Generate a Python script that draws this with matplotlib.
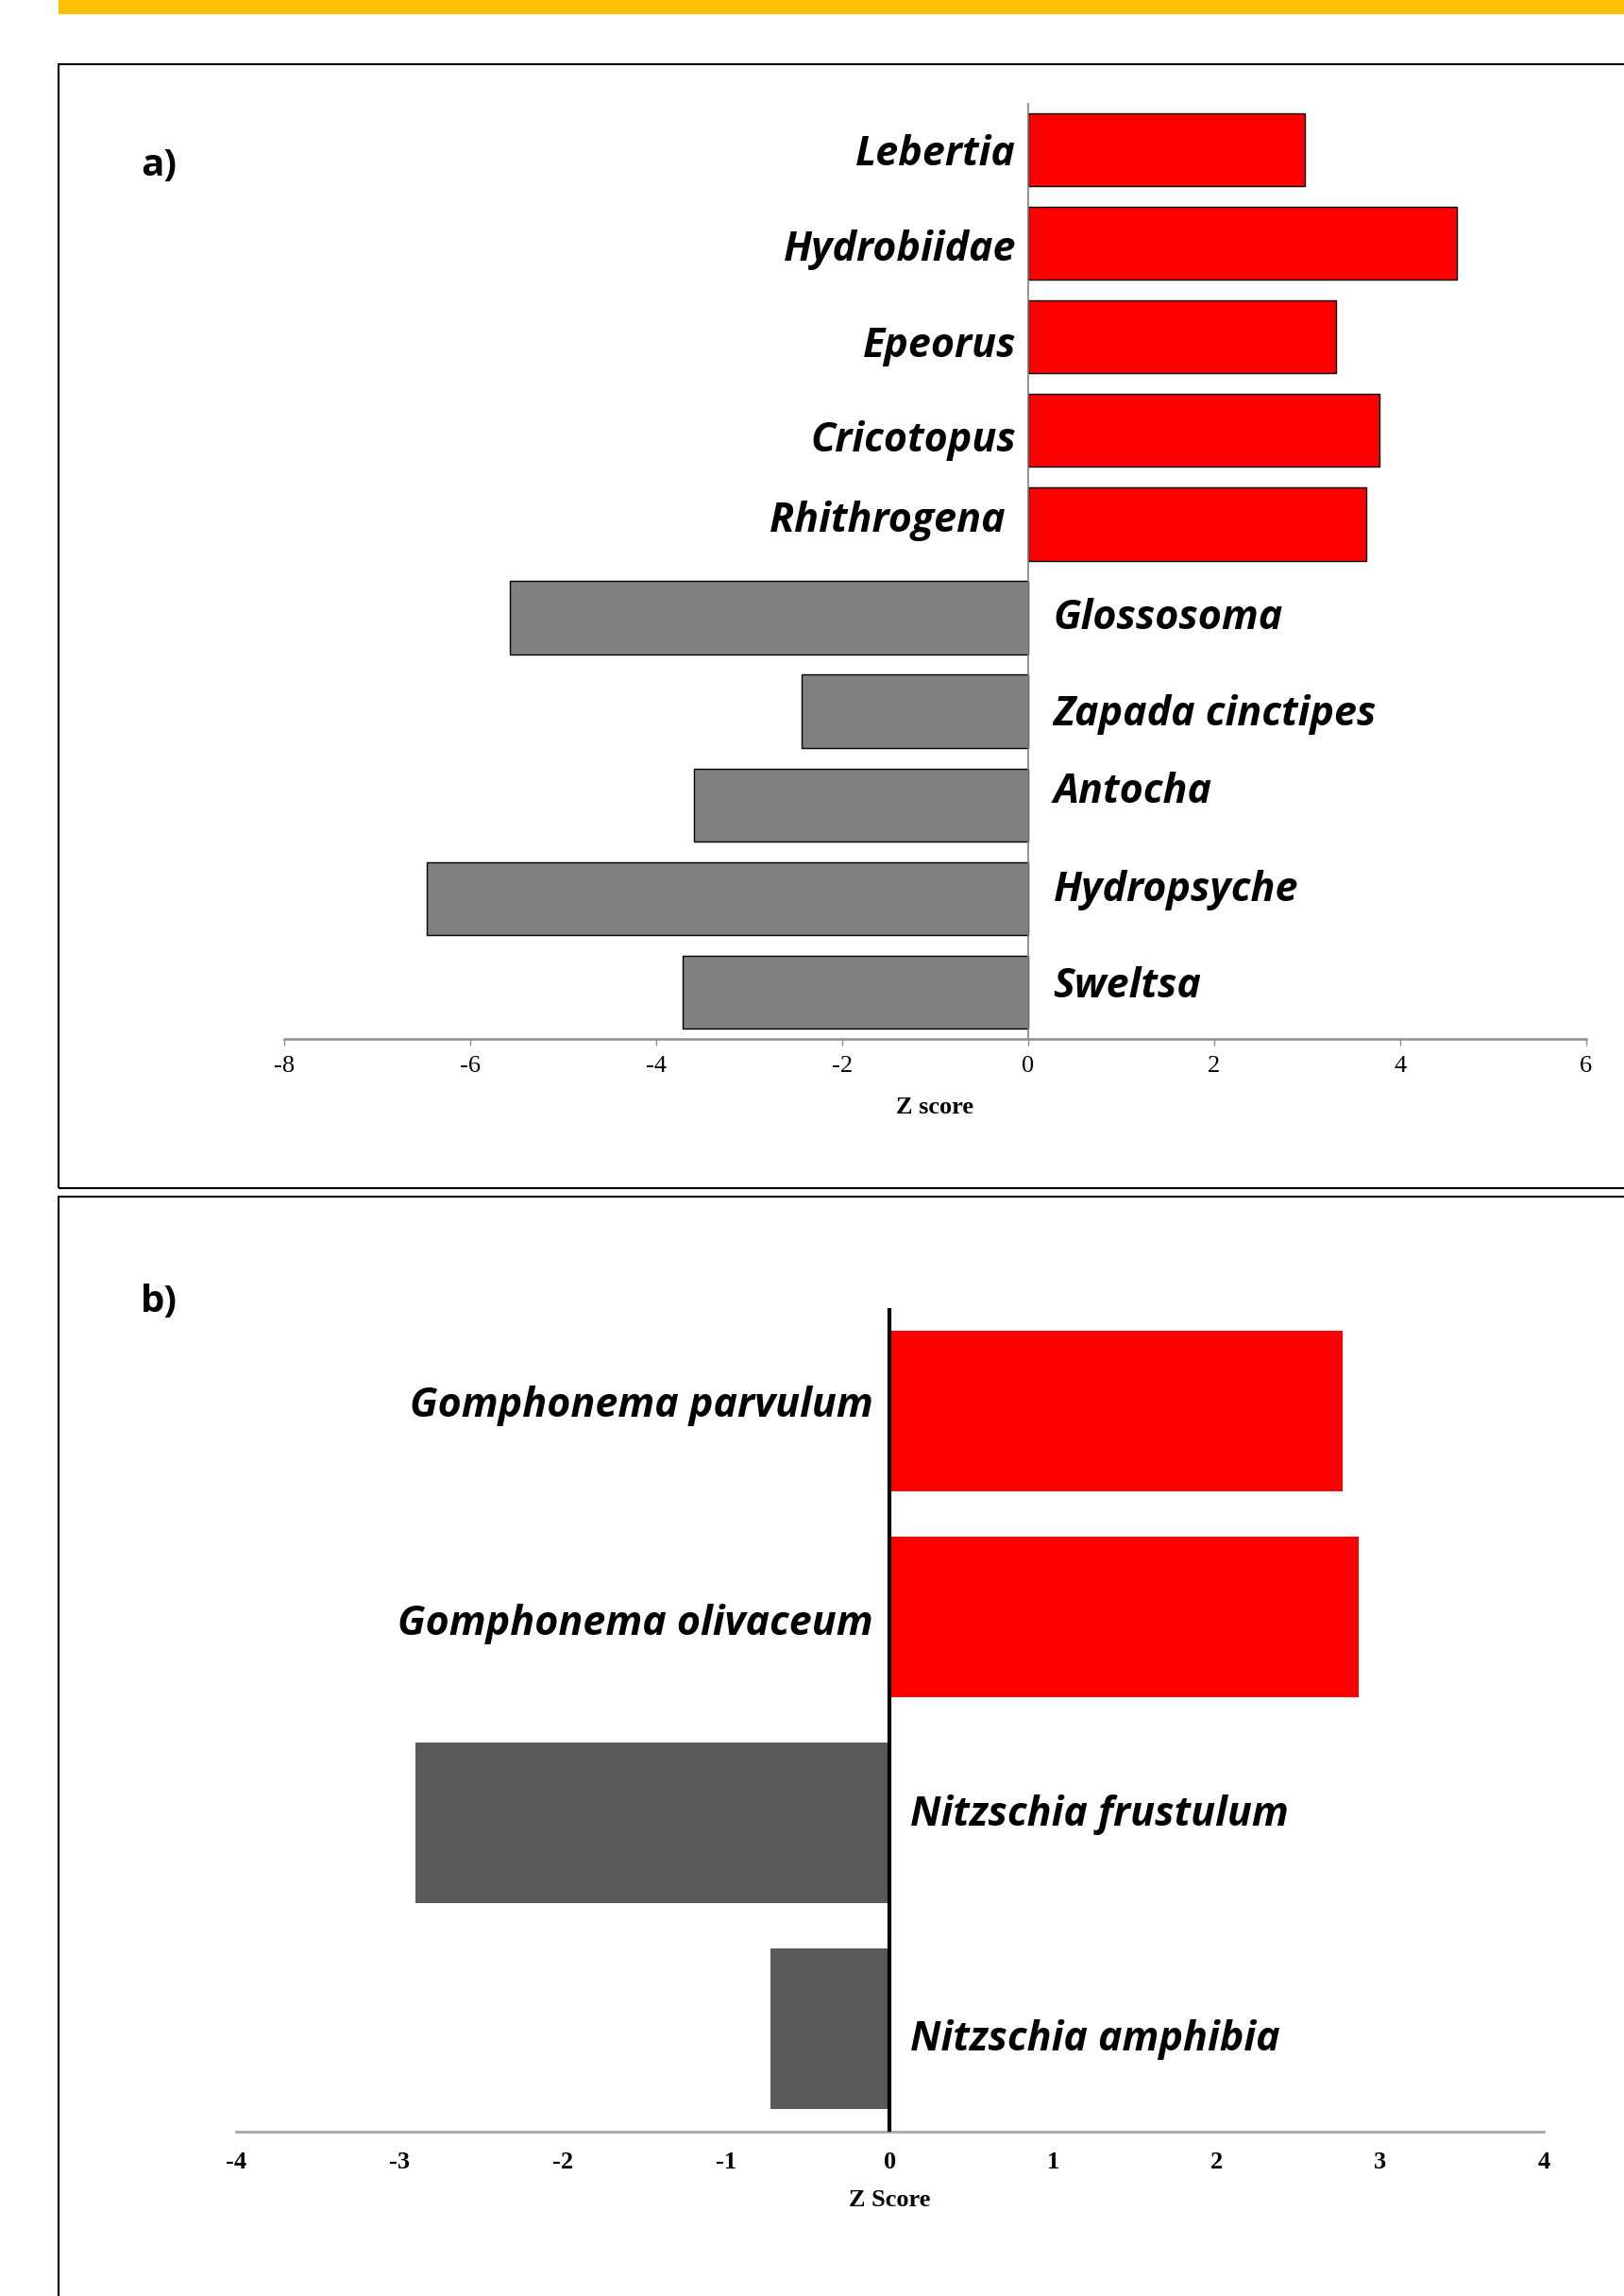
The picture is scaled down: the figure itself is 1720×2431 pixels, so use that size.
import matplotlib
matplotlib.use("Agg")
import matplotlib.pyplot as plt
from matplotlib.patches import Rectangle

# panel a: macroinvertebrate taxa (top to bottom)
taxa_a = ["Lebertia", "Hydrobiidae", "Epeorus", "Cricotopus", "Rhithrogena ",
          "Glossosoma", "Zapada cinctipes", "Antocha", "Hydropsyche", "Sweltsa"]
z_a = [2.98, 4.61, 3.31, 3.78, 3.64, -5.57, -2.44, -3.59, -6.47, -3.72]
ticks_a = [-8, -6, -4, -2, 0, 2, 4, 6]

# panel b: diatom taxa (top to bottom)
taxa_b = ["Gomphonema parvulum", "Gomphonema olivaceum",
          "Nitzschia frustulum", "Nitzschia amphibia"]
z_b = [2.77, 2.87, -2.90, -0.73]
ticks_b = [-4, -3, -2, -1, 0, 1, 2, 3, 4]

# small vertical tweaks for the hand-placed taxon names
nudge_a = [0, 0.02, 0.05, 0.06, -0.08, -0.05, -0.02, -0.19, -0.14, -0.11]
nudge_b = [-0.05, 0.01, -0.06, 0.03]

LABEL_FONT = ["Open Sans", "DejaVu Sans"]
SERIF = ["Liberation Serif", "DejaVu Serif"]

fig = plt.figure(figsize=(17.2, 24.31), dpi=100)

# gold strip and panel frames
fig.add_artist(Rectangle((0.036, 0.9938), 1.0, 0.02, transform=fig.transFigure,
                         color="#FFC000", lw=0))
fig.add_artist(Rectangle((0.036, 0.4825), 1.0, 0.4895, transform=fig.transFigure,
                         fill=False, ec="black", lw=1.5))
fig.add_artist(Rectangle((0.036, -0.1), 1.0, 0.5788, transform=fig.transFigure,
                         fill=False, ec="black", lw=1.5))

# ---- panel a ----
ax1 = fig.add_axes([0.175, 0.5475, 0.8017, 0.4077])
cols_a = ["#FF0000" if v > 0 else "#808080" for v in z_a]
ax1.barh(range(len(z_a)), z_a, height=0.78, color=cols_a, edgecolor="black", linewidth=1.0)
ax1.axvline(0, color="#808080", lw=1.2, zorder=3)
ax1.set_xlim(-8, 6)
ax1.set_ylim(len(z_a) - 0.5, -0.5)
ax1.set_xticks(ticks_a)
ax1.set_xticklabels([str(t) for t in ticks_a], family=SERIF, fontsize=19)
ax1.set_yticks([])
for s in ["top", "right", "left"]:
    ax1.spines[s].set_visible(False)
ax1.spines["bottom"].set_color("#8c8c8c")
ax1.spines["bottom"].set_linewidth(1.8)
ax1.tick_params(axis="x", length=5, width=1.0, color="#8c8c8c", pad=8)

for i, (name, v) in enumerate(zip(taxa_a, z_a)):
    if v > 0:
        ax1.text(-0.13, i + nudge_a[i], name, ha="right", va="center_baseline",
                 family=LABEL_FONT, fontsize=31, fontweight="bold", style="italic")
    else:
        ax1.text(0.27, i + nudge_a[i], name, ha="left", va="center_baseline",
                 family=LABEL_FONT, fontsize=31, fontweight="bold", style="italic")

ax1.text(0.5, -0.0727, "Z score", transform=ax1.transAxes, ha="center", va="center",
         family=SERIF, fontsize=19, fontweight="bold")

# ---- panel b ----
ax2 = fig.add_axes([0.1453, 0.0716, 0.8052, 0.3587])
cols_b = ["#FF0000" if v > 0 else "#595959" for v in z_b]
ax2.barh(range(len(z_b)), z_b, height=0.78, color=cols_b, linewidth=0)
ax2.axvline(0, color="black", lw=3.0, zorder=3)
ax2.set_xlim(-4, 4)
ax2.set_ylim(len(z_b) - 0.5, -0.5)
ax2.set_xticks(ticks_b)
ax2.set_xticklabels([str(t) for t in ticks_b], family=SERIF, fontsize=19, fontweight="bold")
ax2.set_yticks([])
for s in ["top", "right", "left"]:
    ax2.spines[s].set_visible(False)
ax2.spines["bottom"].set_color("#a6a6a6")
ax2.spines["bottom"].set_linewidth(2.0)
ax2.tick_params(axis="x", length=0, pad=15)

for i, (name, v) in enumerate(zip(taxa_b, z_b)):
    if v > 0:
        ax2.text(-0.1, i + nudge_b[i], name, ha="right", va="center_baseline",
                 family=LABEL_FONT, fontsize=31, fontweight="bold", style="italic")
    else:
        ax2.text(0.125, i + nudge_b[i], name, ha="left", va="center_baseline",
                 family=LABEL_FONT, fontsize=31, fontweight="bold", style="italic")

ax2.text(0.5, -0.0837, "Z Score", transform=ax2.transAxes, ha="center", va="center",
         family=SERIF, fontsize=19, fontweight="bold")

# panel letters
fig.text(149 / 1720, 1 - 175 / 2431, "a)", ha="left", va="center",
         family=LABEL_FONT, fontsize=29, fontweight="bold")
fig.text(149 / 1720, 1 - 1379 / 2431, "b)", ha="left", va="center",
         family=LABEL_FONT, fontsize=29, fontweight="bold")

fig.savefig("out.png", dpi=100)
